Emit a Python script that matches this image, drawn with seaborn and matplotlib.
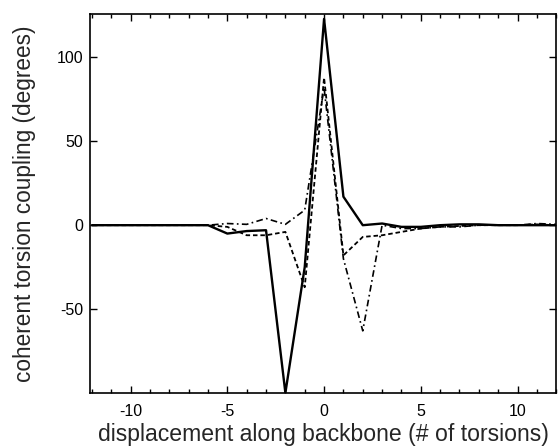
import numpy as np
import pandas as pd
import matplotlib
matplotlib.use("Agg")
import matplotlib.pyplot as plt
import seaborn as sns

displacement = list(range(-12, 13))
solid_vals = [0, 0, 0, 0, 0, 0, 0, -5, -3.5, -3, -100, -25, 123, 17, 0, 1, -1, -1, 0, 0.5, 0.5, 0, 0, 0, 0]
dashed_vals = [0, 0, 0, 0, 0, 0, 0, -1, -6, -6, -4, -37, 88, -18, -7, -6, -4, -2, -1, -0.5, 0, 0, 0, 0.5, 0]
dashdot_vals = [0, 0, 0, 0, 0, 0, 0, 1, 0.5, 4, 0.5, 9, 82, -20, -63, 0, -2, -2, -1, -1, 0, 0, 0, 1, 0.5]
series_names = ["solid", "dashed", "dashdot"]

df = pd.DataFrame({
    "x": displacement * 3,
    "y": solid_vals + dashed_vals + dashdot_vals,
    "series": [series_names[0]] * 25 + [series_names[1]] * 25 + [series_names[2]] * 25,
})

sns.set_style("ticks")
plt.rcParams["font.family"] = ["Liberation Sans", "DejaVu Sans"]
plt.rcParams["axes.unicode_minus"] = False

fig = plt.figure(figsize=(5.59, 4.48), dpi=100)
ax = fig.add_axes([0.161, 0.123, 0.834, 0.846])

styles = {"solid": ("-", 1.7), "dashed": ((0, (2.5, 1.6)), 1.3), "dashdot": ((0, (4, 2, 1, 2)), 1.2)}
for name in series_names:
    sub = df[df["series"] == name]
    ls, lw = styles[name]
    sns.lineplot(data=sub, x="x", y="y", ax=ax, color="black", linestyle=ls,
                 linewidth=lw, legend=False)

ax.set_xlim(-12.1, 12.0)
ax.set_ylim(-100, 126)
ax.set_xticks([-10, -5, 0, 5, 10])
ax.set_xticks(range(-12, 13), minor=True)
ax.set_yticks([-50, 0, 50, 100])
ax.tick_params(axis="both", which="both", direction="in", top=True, right=True,
               colors="black", labelsize=11.5, width=1)
ax.tick_params(axis="both", which="major", length=5)
ax.tick_params(axis="both", which="minor", length=3)
ax.tick_params(axis="x", which="major", pad=8)
ax.tick_params(axis="y", which="major", pad=5)
for s in ax.spines.values():
    s.set_linewidth(1.2)
    s.set_color("black")

ax.set_xlabel("displacement along backbone (# of torsions)", fontsize=16.6, labelpad=3)
ax.set_ylabel("coherent torsion coupling (degrees)", fontsize=16.3, labelpad=15)

fig.savefig("out.png", dpi=100)
